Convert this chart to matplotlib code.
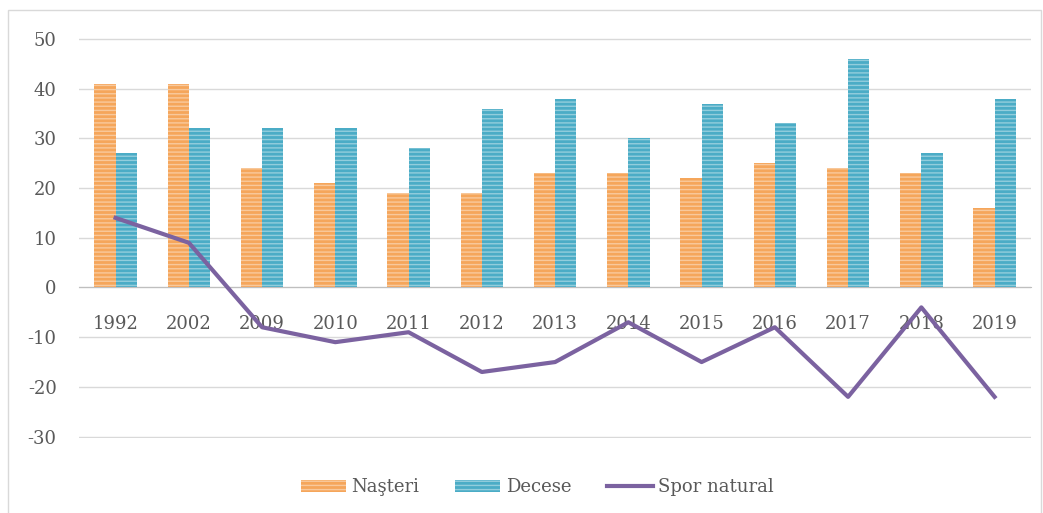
import matplotlib.pyplot as plt
import matplotlib.patches as mpatches
from matplotlib.lines import Line2D
import numpy as np

years = ['1992', '2002', '2009', '2010', '2011', '2012', '2013',
         '2014', '2015', '2016', '2017', '2018', '2019']
nasteri = [41, 41, 24, 21, 19, 19, 23, 23, 22, 25, 24, 23, 16]
decese = [27, 32, 32, 32, 28, 36, 38, 30, 37, 33, 46, 27, 38]
spor = [14, 9, -8, -11, -9, -17, -15, -7, -15, -8, -22, -4, -22]

plt.rcParams['font.family'] = ['DejaVu Serif']
plt.rcParams['hatch.linewidth'] = 1.0
plt.rcParams['axes.unicode_minus'] = False

c_n = '#F5A65B'
c_d = '#4BACC6'
c_s = '#7B62A0'
txt = '#595959'
hc = (1, 1, 1, 0.4)

fig = plt.figure(figsize=(10.43, 5.13), dpi=100)
ax = fig.add_axes([0.0757, 0.146, 0.913, 0.781])

x = np.arange(len(years))
w = 0.29
ax.bar(x - w / 2, nasteri, w, color=c_n, edgecolor=hc,
       linewidth=0, hatch='----', zorder=2)
ax.bar(x + w / 2, decese, w, color=c_d, edgecolor=hc,
       linewidth=0, hatch='----', zorder=2)
ax.plot(x, spor, color=c_s, linewidth=3, zorder=3)

ax.set_xlim(-0.5, len(years) - 0.5)
ax.set_ylim(-30.3, 50.3)
ax.set_yticks(range(-30, 51, 10))
ax.yaxis.grid(True, color='#D9D9D9', linewidth=1, zorder=0)
ax.set_axisbelow(True)
for s in ['top', 'right', 'left']:
    ax.spines[s].set_visible(False)
ax.spines['bottom'].set_position(('data', 0))
ax.spines['bottom'].set_color('#BFBFBF')
ax.set_xticks(x)
ax.set_xticklabels(years)
ax.tick_params(axis='both', length=0, labelsize=13, labelcolor=txt)
ax.tick_params(axis='y', pad=16)
ax.tick_params(axis='x', pad=20)

handles = [
    mpatches.Patch(facecolor=c_n, edgecolor=hc, linewidth=0, hatch='----', label='Naşteri'),
    mpatches.Patch(facecolor=c_d, edgecolor=hc, linewidth=0, hatch='----', label='Decese'),
    Line2D([0], [0], color=c_s, linewidth=3, label='Spor natural'),
]
leg = fig.legend(handles=handles, loc='center', bbox_to_anchor=(0.515, 0.05), ncol=3,
                 frameon=False, fontsize=13, handlelength=2.5, handletextpad=0.3,
                 columnspacing=2.0, handleheight=0.6)
for t in leg.get_texts():
    t.set_color(txt)

fig.patches.append(mpatches.Rectangle((0.008, -0.01), 0.99, 0.99, transform=fig.transFigure,
                                      fill=False, edgecolor='#D9D9D9', linewidth=1))

fig.savefig('out.png', dpi=100)
